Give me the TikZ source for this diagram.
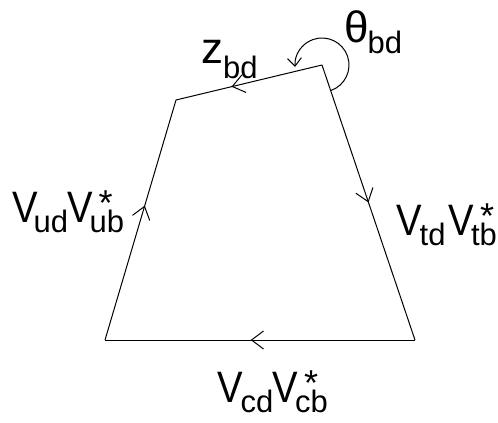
\documentclass[tikz,border=0pt]{standalone}
\usepackage{fontspec}
\setmainfont{Liberation Sans}
\usetikzlibrary{arrows.meta,decorations.markings,calc}
\newcommand\Bf{\fontsize{44}{44}\selectfont}
\newcommand\Sf{\fontsize{31}{31}\selectfont}
\newcommand\MV{\scalebox{0.87}[1]{V}}
\newcommand\SubLo[2]{\raisebox{-#1}{\Sf #2}}
\newcommand\SubStar[2]{\raisebox{-#1}{\Sf\rlap{\kern9pt\raisebox{17pt}{\fontsize{36}{36}\selectfont *}}#2}}
\tikzset{
  edge/.style={line width=1pt},
  midarrow/.style={postaction={decorate,decoration={markings,
      mark=at position #1 with {\arrow[line width=1pt]{Straight Barb[length=12pt,width=18pt]}}}}},
  lbl/.style={anchor=base west, inner sep=0pt, font=\Bf},
}
\begin{document}
\begin{tikzpicture}[x=1pt,y=-1pt]
\useasboundingbox (0,0) rectangle (498,423);
\coordinate (A) at (322,65);
\coordinate (B) at (176,100);
\coordinate (C) at (105,340);
\coordinate (D) at (415,340);
\draw[edge,midarrow=0.62] (A) -- (B);
\draw[edge,midarrow=0.56] (C) -- (B);
\draw[edge,midarrow=0.5] (A) -- (D);
\draw[edge,midarrow=0.53] (D) -- (C);
\draw[edge,-{Straight Barb[length=8pt,width=14pt]}] ($(A)+(71:27)$) arc[start angle=71,end angle=-184,radius=27];
\node[lbl] (theta) at (344,42) {θ\kern-1pt\SubLo{11pt}{bd}};
\node[lbl] (z) at (201,63) {z\SubLo{15pt}{bd}};
\node[lbl] (ub) at (12,222) {\MV\kern-4pt\SubLo{10pt}{ud}\kern-1pt\MV\kern-3pt\SubStar{10pt}{ub}};
\node[lbl] (tb) at (396,235) {\MV\kern-2pt\SubLo{10pt}{td}\kern3pt\MV\kern-3pt\SubStar{10pt}{tb}};
\node[lbl] (cb) at (217,402) {\MV\kern-2pt\SubLo{10pt}{cd}\kern-1pt\MV\kern-3pt\SubStar{10pt}{cb}};
\end{tikzpicture}
\end{document}
